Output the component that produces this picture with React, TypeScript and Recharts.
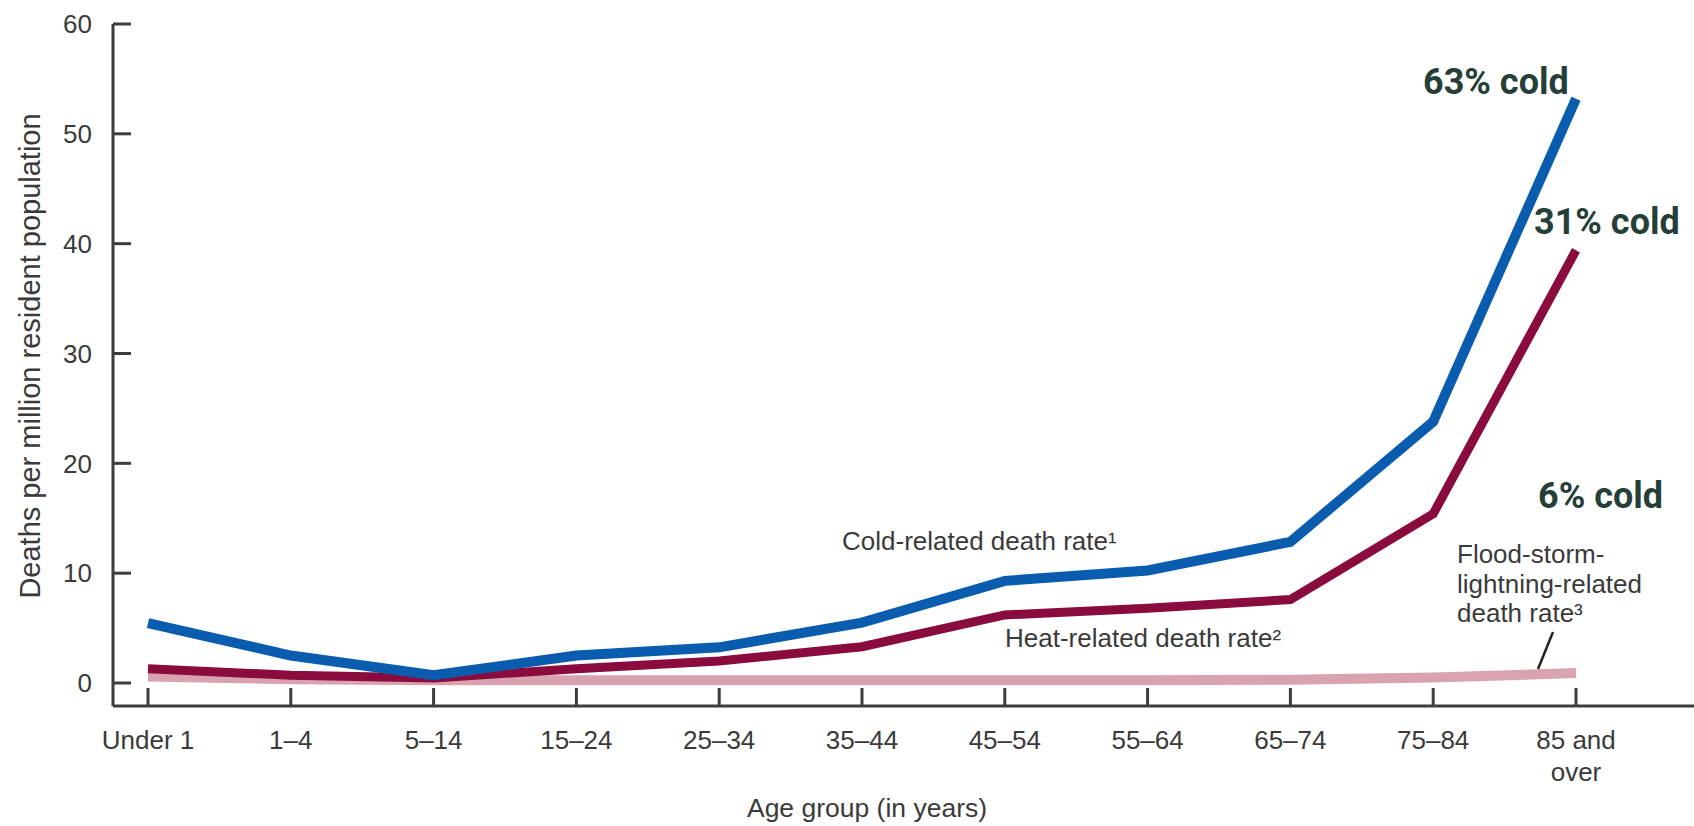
import React from 'react';
import { LineChart, Line, XAxis, YAxis } from 'recharts';

const ageGroups = ['Under 1', '1–4', '5–14', '15–24', '25–34', '35–44', '45–54', '55–64', '65–74', '75–84', '85 and over'];
const coldRate = [5.45, 2.5, 0.7, 2.5, 3.25, 5.5, 9.3, 10.25, 12.85, 23.8, 53.2];
const heatRate = [1.3, 0.7, 0.45, 1.3, 2.0, 3.3, 6.2, 6.8, 7.6, 15.4, 39.4];
const floodRate = [0.6, 0.35, 0.25, 0.25, 0.25, 0.25, 0.25, 0.25, 0.3, 0.5, 0.9];
const yTicks = [0, 10, 20, 30, 40, 50, 60];

const data = ageGroups.map((age, i) => ({
  age,
  cold: coldRate[i],
  heat: heatRate[i],
  flood: floodRate[i],
}));

const FONT = '"Liberation Sans", Arial, Helvetica, sans-serif';
const TEXT = '#3a3a3a';
const AXIS = '#3d3d3d';
const BOLD = '#253f38';

const XTick = (props: any) => {
  const { x, y, payload } = props;
  const label: string = payload.value;
  let lines = [label];
  if (label.length > 8) {
    const k = label.lastIndexOf(' ');
    lines = [label.slice(0, k), label.slice(k + 1)];
  }
  return (
    <text x={x} y={y} textAnchor="middle" fill={TEXT} fontSize={26} fontFamily={FONT}>
      {lines.map((l, i) => (
        <tspan key={i} x={x} dy={i === 0 ? '0.71em' : 32}>
          {l}
        </tspan>
      ))}
    </text>
  );
};

export default function App() {
  return (
    <div style={{ position: 'absolute', left: 0, top: 0, width: 1694, height: 826, background: '#fff' }}>
      <LineChart width={1694} height={826} data={data} margin={{ top: 24, right: 0, bottom: 0, left: 0 }}>
        <XAxis
          dataKey="age"
          height={120}
          interval={0}
          padding={{ left: 35, right: 118 }}
          axisLine={{ stroke: AXIS, strokeWidth: 3 }}
          tickLine={{ stroke: AXIS, strokeWidth: 3 }}
          tickSize={-18}
          tickMargin={43}
          tick={<XTick />}
        />
        <YAxis
          width={113}
          domain={[0, 60]}
          ticks={yTicks}
          interval={0}
          padding={{ top: 0, bottom: 23 }}
          axisLine={{ stroke: AXIS, strokeWidth: 3 }}
          tickLine={{ stroke: AXIS, strokeWidth: 3 }}
          tickSize={-18}
          tickMargin={39}
          tick={{ fill: TEXT, fontSize: 26, fontFamily: FONT }}
        />
        <Line dataKey="flood" stroke="#d9a2af" strokeWidth={10} dot={false} activeDot={false} isAnimationActive={false} />
        <Line dataKey="heat" stroke="#8a0b3e" strokeWidth={9} dot={false} activeDot={false} isAnimationActive={false} />
        <Line dataKey="cold" stroke="#0a5cae" strokeWidth={10} dot={false} activeDot={false} isAnimationActive={false} />
      </LineChart>
      <svg
        width={1694}
        height={826}
        style={{ position: 'absolute', left: 0, top: 0, pointerEvents: 'none' }}
      >
        <text x={30} y={356} transform="rotate(-90 30 356)" textAnchor="middle" dominantBaseline="central" fill={TEXT} fontSize={29} fontFamily={FONT}>
          Deaths per million resident population
        </text>
        <text x={867} y={817} textAnchor="middle" fill={TEXT} fontSize={26.5} fontFamily={FONT}>
          Age group (in years)
        </text>
        <text x={842} y={550} fill={TEXT} fontSize={26} fontFamily={FONT}>
          Cold-related death rate¹
        </text>
        <text x={1005} y={647} fill={TEXT} fontSize={26} fontFamily={FONT}>
          Heat-related death rate²
        </text>
        <text x={1457} y={563} fill={TEXT} fontSize={26} fontFamily={FONT}>
          <tspan x={1457}>Flood-storm-</tspan>
          <tspan x={1457} dy={29.5}>lightning-related</tspan>
          <tspan x={1457} dy={29.5}>death rate³</tspan>
        </text>
        <line x1={1553} y1={632} x2={1538} y2={669} stroke="#222" strokeWidth={2.5} />
        <text x={1423} y={94} fill={BOLD} fontSize={36} fontWeight={700} fontFamily="Roboto, sans-serif">
          63% cold
        </text>
        <text x={1534} y={234} fill={BOLD} fontSize={36} fontWeight={700} fontFamily="Roboto, sans-serif">
          31% cold
        </text>
        <text x={1538} y={508} fill={BOLD} fontSize={36} fontWeight={700} fontFamily="Roboto, sans-serif">
          6% cold
        </text>
      </svg>
    </div>
  );
}
